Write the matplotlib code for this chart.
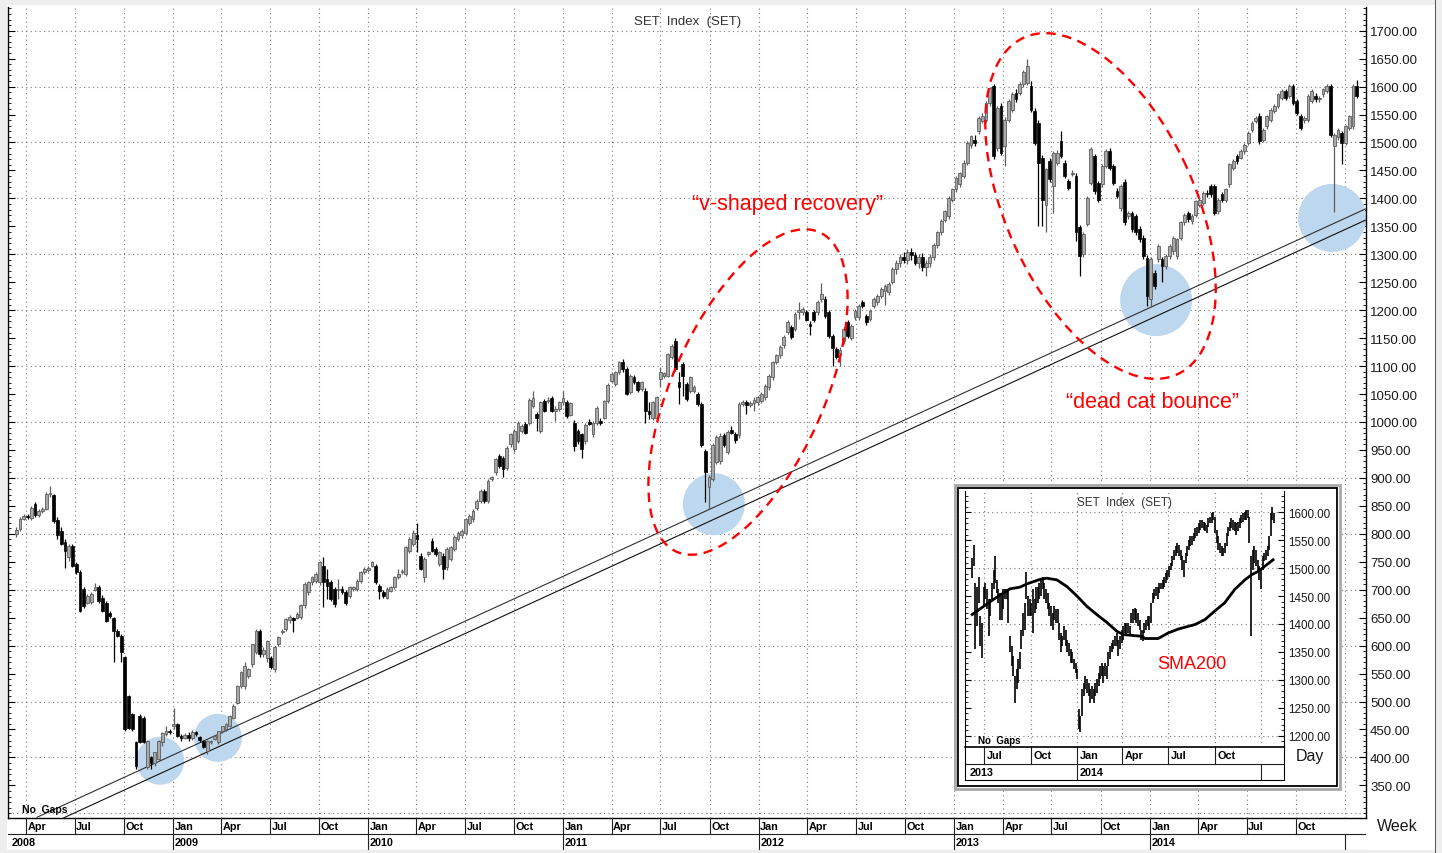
import numpy as np
import pandas as pd
import matplotlib
matplotlib.use("Agg")
import matplotlib.pyplot as plt
import matplotlib.dates as mdates
from matplotlib.patches import Ellipse, Rectangle
from matplotlib.transforms import IdentityTransform
from matplotlib.ticker import FormatStrFormatter, MultipleLocator, FixedLocator

plt.rcParams['font.family'] = ['Liberation Sans', 'DejaVu Sans']

# ------------------------------------------------------------------ data
# weekly SET index candles (open, high, low, close), one list per year
start_2008 = '2008-03-14'
open_2008 = [800, 808, 827, 831, 828, 853, 833, 840, 845, 871, 870, 825, 805, 785, 758, 779, 746, 731, 701, 677,
             678, 700, 704, 686, 677, 659, 650, 627, 618, 579, 510, 477, 427, 474, 471, 382, 400, 390, 397, 427,
             441, 447]
high_2008 = [812, 830, 835, 836, 850, 856, 845, 848, 874, 886, 872, 830, 812, 790, 782, 782, 750, 735, 705, 693,
             695, 712, 708, 690, 680, 662, 652, 630, 620, 582, 512, 480, 430, 478, 474, 432, 402, 410, 432, 446,
             456, 450]
low_2008 = [795, 805, 824, 826, 824, 830, 830, 838, 843, 866, 820, 791, 780, 738, 752, 740, 728, 660, 668, 674,
            675, 697, 676, 660, 642, 650, 570, 615, 570, 448, 450, 447, 380, 425, 425, 380, 380, 385, 395, 420,
            438, 442]
close_2008 = [806, 827, 831, 830, 847, 833, 840, 845, 871, 873, 823, 797, 782, 770, 779, 743, 731, 662, 671, 689,
              692, 705, 680, 662, 644, 653, 627, 618, 588, 450, 453, 450, 385, 427, 427, 430, 390, 409, 430, 444,
              447, 446]

start_2009 = '2009-01-02'
open_2009 = [456, 459, 439, 435, 440, 434, 446, 436, 430, 412, 427, 433, 427, 447, 450, 456, 471, 498, 528, 527,
             546, 567, 588, 627, 585, 578, 578, 558, 603, 624, 630, 645, 650, 650, 651, 672, 695, 713, 716, 713,
             743, 719, 713, 701, 699, 701, 695, 689, 701, 701, 716, 731]
high_2009 = [489, 462, 442, 444, 446, 449, 448, 438, 432, 431, 432, 440, 448, 457, 461, 476, 495, 530, 555, 570,
             560, 603, 630, 630, 598, 610, 582, 600, 617, 630, 650, 654, 652, 660, 675, 713, 716, 725, 731, 752,
             758, 737, 717, 705, 719, 706, 699, 707, 707, 719, 734, 740]
low_2009 = [450, 437, 430, 433, 430, 432, 438, 428, 416, 406, 424, 431, 424, 444, 448, 454, 468, 495, 525, 522,
            542, 562, 585, 580, 580, 570, 558, 552, 600, 620, 627, 640, 625, 648, 648, 668, 690, 709, 712, 709,
            669, 683, 680, 669, 683, 692, 672, 685, 697, 697, 712, 728]
close_2009 = [459, 439, 435, 440, 434, 446, 441, 431, 418, 430, 430, 438, 447, 456, 459, 474, 492, 528, 552, 564,
              558, 602, 627, 585, 592, 608, 562, 597, 615, 627, 648, 651, 645, 657, 672, 710, 713, 722, 728, 749,
              713, 707, 683, 675, 702, 696, 677, 704, 704, 716, 731, 737]

start_2010 = '2010-01-01'
open_2010 = [736, 743, 743, 707, 695, 686, 698, 704, 722, 731, 728, 770, 782, 797, 761, 722, 764, 788, 773, 746,
             761, 740, 755, 773, 791, 797, 802, 820, 826, 847, 859, 877, 859, 898, 910, 939, 936, 918, 960, 951,
             966, 984, 996, 999, 1029, 1014, 984, 1037, 1037, 1043, 1020, 1023, 1035]
high_2010 = [742, 752, 746, 711, 700, 704, 707, 725, 737, 737, 779, 794, 806, 820, 765, 758, 770, 792, 777, 770,
             765, 776, 779, 797, 805, 808, 829, 835, 844, 862, 880, 881, 898, 904, 936, 943, 940, 957, 981, 987,
             1002, 996, 1000, 1043, 1055, 1018, 1038, 1041, 1045, 1047, 1028, 1038, 1055]
low_2010 = [732, 740, 710, 683, 686, 683, 695, 701, 719, 728, 725, 766, 778, 767, 735, 713, 760, 767, 761, 742,
            719, 736, 751, 769, 787, 793, 798, 816, 822, 843, 855, 855, 855, 895, 906, 917, 901, 914, 956, 947,
            962, 980, 978, 995, 1025, 984, 980, 1017, 1034, 1017, 1002, 1019, 1030]
close_2010 = [738, 749, 713, 698, 689, 701, 704, 722, 728, 734, 776, 791, 802, 791, 737, 755, 767, 770, 764, 767,
              737, 773, 776, 794, 802, 805, 826, 832, 841, 859, 877, 859, 895, 901, 933, 921, 916, 954, 978, 984,
              999, 993, 981, 1040, 1043, 1008, 1035, 1020, 1040, 1020, 1023, 1035, 1043]

start_2011 = '2011-01-07'
open_2011 = [1035, 1012, 999, 984, 978, 966, 1000, 978, 999, 1002, 1008, 1038, 1074, 1068, 1089, 1107, 1095, 1053,
             1080, 1071, 1059, 1056, 1020, 1008, 1008, 1077, 1082, 1083, 1116, 1145, 1071, 1104, 1068, 1056, 1056,
             1050, 1032, 949, 883, 898, 928, 930, 976, 946, 985, 979, 976, 1032, 1035, 1030, 1034, 1035]
high_2011 = [1040, 1036, 1003, 988, 980, 998, 1005, 1001, 1028, 1008, 1040, 1070, 1090, 1092, 1110, 1113, 1098, 1086,
             1084, 1074, 1074, 1060, 1035, 1038, 1047, 1098, 1090, 1124, 1140, 1150, 1089, 1108, 1072, 1083, 1066,
             1054, 1035, 952, 905, 962, 976, 980, 980, 985, 992, 983, 1035, 1040, 1040, 1038, 1044, 1047]
low_2011 = [1008, 1010, 948, 960, 936, 960, 994, 974, 995, 994, 1005, 1034, 1070, 1065, 1086, 1089, 1048, 1050,
            1068, 1054, 1055, 999, 1006, 1004, 1004, 1062, 1078, 1080, 1112, 1092, 1032, 1047, 1038, 1052, 1052,
            1028, 955, 857, 845, 894, 924, 925, 955, 942, 978, 962, 972, 1028, 1014, 1026, 1020, 1030]
close_2011 = [1011, 1034, 957, 966, 951, 994, 997, 998, 1025, 998, 1038, 1066, 1086, 1089, 1107, 1095, 1050, 1083,
              1071, 1057, 1071, 1020, 1015, 1035, 1044, 1089, 1087, 1121, 1136, 1095, 1062, 1083, 1041, 1080, 1062,
              1032, 958, 910, 901, 958, 973, 975, 958, 982, 980, 967, 1032, 1035, 1030, 1034, 1040, 1044]

start_2012 = '2012-01-06'
open_2012 = [1038, 1044, 1062, 1080, 1107, 1119, 1137, 1161, 1170, 1167, 1196, 1196, 1196, 1175, 1196, 1196, 1220,
             1220, 1196, 1154, 1130, 1124, 1145, 1178, 1151, 1187, 1187, 1214, 1190, 1184, 1208, 1214, 1226, 1235,
             1232, 1250, 1274, 1285, 1295, 1290, 1305, 1298, 1285, 1295, 1278, 1285, 1296, 1316, 1339, 1362, 1368,
             1398]
high_2012 = [1053, 1068, 1086, 1110, 1122, 1137, 1155, 1182, 1174, 1197, 1214, 1206, 1200, 1180, 1200, 1218, 1249,
             1226, 1200, 1158, 1134, 1135, 1170, 1182, 1175, 1203, 1211, 1218, 1194, 1202, 1223, 1229, 1241, 1247,
             1250, 1277, 1290, 1300, 1305, 1310, 1312, 1305, 1300, 1302, 1290, 1300, 1320, 1342, 1363, 1380, 1404,
             1419]
low_2012 = [1034, 1040, 1058, 1076, 1103, 1115, 1133, 1157, 1148, 1163, 1184, 1192, 1180, 1155, 1178, 1192, 1215,
            1186, 1150, 1100, 1112, 1100, 1140, 1150, 1147, 1183, 1183, 1204, 1174, 1180, 1204, 1210, 1222, 1210,
            1228, 1246, 1265, 1278, 1285, 1282, 1290, 1280, 1275, 1270, 1262, 1278, 1290, 1312, 1335, 1358, 1364,
            1394]
close_2012 = [1050, 1065, 1083, 1107, 1119, 1134, 1152, 1179, 1152, 1194, 1200, 1203, 1182, 1172, 1182, 1214, 1229,
              1190, 1154, 1133, 1116, 1128, 1166, 1154, 1172, 1199, 1208, 1208, 1178, 1199, 1220, 1226, 1238, 1244,
              1247, 1274, 1285, 1295, 1290, 1305, 1298, 1285, 1295, 1278, 1285, 1296, 1316, 1339, 1360, 1377, 1401,
              1416]

start_2013 = '2013-01-04'
open_2013 = [1416, 1425, 1440, 1464, 1496, 1505, 1520, 1538, 1541, 1571, 1601, 1490, 1565, 1493, 1541, 1559, 1589,
             1589, 1604, 1607, 1601, 1556, 1535, 1473, 1389, 1467, 1422, 1464, 1502, 1464, 1431, 1443, 1440, 1348,
             1300, 1354, 1428, 1476, 1428, 1425, 1458, 1484, 1458, 1413, 1383, 1429, 1368, 1374, 1368, 1345, 1330,
             1294]
high_2013 = [1440, 1448, 1468, 1502, 1514, 1514, 1548, 1552, 1574, 1600, 1604, 1566, 1570, 1545, 1578, 1590, 1595,
             1608, 1630, 1649, 1610, 1562, 1540, 1478, 1455, 1472, 1485, 1486, 1520, 1468, 1435, 1450, 1445, 1352,
             1340, 1405, 1492, 1480, 1432, 1462, 1488, 1490, 1462, 1418, 1425, 1434, 1378, 1378, 1372, 1350, 1334,
             1298]
low_2013 = [1412, 1420, 1436, 1460, 1490, 1494, 1515, 1534, 1536, 1566, 1470, 1485, 1478, 1458, 1536, 1555, 1572,
            1585, 1600, 1602, 1555, 1495, 1351, 1351, 1339, 1430, 1374, 1460, 1472, 1436, 1415, 1440, 1324, 1261,
            1295, 1350, 1424, 1408, 1394, 1420, 1454, 1450, 1424, 1400, 1378, 1352, 1364, 1340, 1335, 1322, 1292,
            1208]
close_2013 = [1437, 1445, 1464, 1499, 1511, 1500, 1544, 1547, 1571, 1598, 1476, 1562, 1482, 1541, 1574, 1586, 1577,
              1604, 1627, 1636, 1559, 1499, 1464, 1398, 1452, 1434, 1482, 1482, 1476, 1440, 1419, 1446, 1339, 1297,
              1336, 1401, 1488, 1413, 1398, 1458, 1484, 1455, 1428, 1404, 1422, 1357, 1374, 1345, 1339, 1327, 1297,
              1226]

start_2014 = '2014-01-03'
open_2014 = [1220, 1267, 1291, 1291, 1279, 1297, 1306, 1297, 1330, 1357, 1374, 1360, 1371, 1389, 1392, 1410, 1422,
             1422, 1377, 1407, 1398, 1425, 1455, 1476, 1473, 1484, 1499, 1523, 1538, 1547, 1505, 1529, 1541, 1556,
             1565, 1580, 1592, 1583, 1601, 1574, 1547, 1541, 1541, 1574, 1583, 1577, 1586, 1592, 1601, 1493, 1509,
             1517]
high_2014 = [1295, 1272, 1318, 1296, 1300, 1318, 1333, 1330, 1360, 1374, 1378, 1372, 1398, 1401, 1413, 1415, 1426,
             1426, 1401, 1411, 1419, 1464, 1470, 1480, 1488, 1499, 1520, 1538, 1547, 1552, 1526, 1550, 1562, 1568,
             1589, 1595, 1596, 1604, 1605, 1578, 1551, 1548, 1586, 1595, 1588, 1584, 1598, 1604, 1605, 1517, 1526,
             1521]
low_2014 = [1205, 1238, 1286, 1251, 1274, 1292, 1300, 1292, 1325, 1352, 1358, 1355, 1366, 1385, 1388, 1403, 1403,
            1370, 1372, 1394, 1394, 1420, 1450, 1462, 1470, 1480, 1495, 1519, 1534, 1498, 1500, 1525, 1537, 1552,
            1561, 1576, 1576, 1579, 1567, 1549, 1522, 1535, 1536, 1570, 1573, 1572, 1582, 1588, 1510, 1376, 1505,
            1461]
close_2014 = [1291, 1243, 1315, 1279, 1297, 1315, 1330, 1327, 1357, 1371, 1363, 1368, 1395, 1398, 1410, 1407, 1407,
              1374, 1398, 1398, 1416, 1461, 1467, 1467, 1485, 1496, 1517, 1535, 1544, 1502, 1523, 1547, 1559, 1565,
              1586, 1592, 1580, 1601, 1571, 1553, 1526, 1544, 1583, 1592, 1577, 1580, 1595, 1601, 1514, 1514, 1523,
              1499]

start_2015 = '2015-01-02'
open_2015 = [1499, 1526, 1529, 1601]
high_2015 = [1532, 1550, 1604, 1612]
low_2015 = [1495, 1522, 1525, 1580]
close_2015 = [1529, 1547, 1601, 1583]

# highlighted touches of the trend line (date, index level)
touch_dates = ['2008-12-08', '2009-03-26', '2011-10-09', '2014-01-13', '2014-12-08']
touch_values = [394, 435, 853, 1218, 1365]

# two parallel trend lines (end points)
trend_upper_dates = ['2008-04-22', '2015-02-08']
trend_upper_values = [293, 1381]
trend_lower_dates = ['2008-06-11', '2015-02-08']
trend_lower_values = [292, 1361]

# inset: daily chart sampled about twice a week (high, low)
inset_start, inset_end = '2013-06-07', '2015-01-27'
inset_high = [1518, 1542, 1473, 1467, 1485, 1414, 1402, 1467, 1473, 1462,
              1444, 1444, 1473, 1497, 1521, 1479, 1462, 1456, 1450, 1462,
              1462, 1462, 1462, 1378, 1360, 1343, 1307, 1319, 1337, 1349,
              1390, 1420, 1438, 1494, 1450, 1444, 1438, 1462, 1444, 1467,
              1467, 1473, 1479, 1485, 1473, 1462, 1456, 1438, 1432, 1420,
              1432, 1426, 1426, 1402, 1384, 1378, 1396, 1390, 1372, 1366,
              1355, 1349, 1337, 1331, 1319, 1248, 1236, 1283, 1295, 1307,
              1301, 1295, 1283, 1289, 1283, 1295, 1301, 1313, 1325, 1331,
              1325, 1331, 1325, 1349, 1360, 1366, 1372, 1378, 1384, 1372,
              1378, 1390, 1396, 1402, 1402, 1402, 1396,
              1420, 1426, 1429, 1426, 1420, 1408, 1390, 1390, 1402, 1408,
              1414, 1414, 1438, 1456, 1462, 1467, 1467, 1473, 1473, 1479,
              1485, 1491, 1497, 1503, 1509, 1521, 1533, 1539, 1545, 1542,
              1533, 1521, 1515, 1527, 1539, 1551, 1557, 1557, 1563, 1571,
              1574, 1580, 1586, 1586, 1583, 1580, 1577, 1589, 1592, 1598,
              1601, 1592, 1568, 1557, 1545, 1539, 1536, 1545, 1563, 1574,
              1583, 1589, 1586, 1583, 1580, 1583, 1589, 1595, 1598, 1601,
              1604, 1604, 1592, 1521, 1533, 1539, 1533, 1515, 1503, 1497,
              1521, 1527, 1533, 1539, 1557, 1598, 1610, 1598]
inset_low = [1482, 1503, 1355, 1396, 1438, 1360, 1340, 1432, 1444, 1426,
             1378, 1414, 1444, 1462, 1473, 1456, 1438, 1408, 1408, 1426,
             1444, 1444, 1402, 1349, 1325, 1307, 1259, 1283, 1295, 1319,
             1355, 1378, 1390, 1444, 1414, 1414, 1414, 1384, 1420, 1426,
             1438, 1444, 1450, 1462, 1444, 1438, 1426, 1414, 1396, 1390,
             1408, 1402, 1402, 1372, 1349, 1360, 1372, 1360, 1349, 1343,
             1331, 1331, 1319, 1313, 1301, 1212, 1207, 1236, 1271, 1283,
             1277, 1271, 1259, 1265, 1259, 1271, 1277, 1289, 1301, 1307,
             1295, 1307, 1301, 1325, 1337, 1349, 1355, 1360, 1360, 1343,
             1355, 1366, 1372, 1384, 1378, 1384, 1378,
             1402, 1402, 1408, 1402, 1396, 1390, 1372, 1369, 1384, 1390,
             1396, 1390, 1402, 1438, 1444, 1450, 1444, 1456, 1462, 1462,
             1467, 1473, 1479, 1485, 1497, 1503, 1515, 1521, 1527, 1521,
             1515, 1497, 1485, 1509, 1521, 1533, 1539, 1542, 1548, 1554,
             1557, 1563, 1568, 1571, 1568, 1566, 1563, 1574, 1580, 1580,
             1586, 1563, 1545, 1533, 1527, 1521, 1521, 1527, 1539, 1557,
             1566, 1571, 1568, 1566, 1560, 1566, 1571, 1580, 1583, 1586,
             1586, 1589, 1545, 1378, 1497, 1509, 1503, 1491, 1479, 1462,
             1497, 1512, 1515, 1521, 1533, 1557, 1586, 1580]

sma_dates = ['2013-06-07', '2013-07-19', '2013-08-21', '2013-09-10', '2013-09-24', '2013-10-20',
             '2013-11-02', '2013-11-22', '2013-12-12', '2014-01-01', '2014-01-20', '2014-02-09',
             '2014-03-01', '2014-03-21', '2014-04-03', '2014-05-09', '2014-05-16', '2014-06-11',
             '2014-07-01', '2014-07-21', '2014-08-23', '2014-09-12', '2014-10-01', '2014-10-21',
             '2014-11-10', '2014-11-30', '2014-12-13', '2014-12-26', '2015-01-08', '2015-01-25']
sma_values = [1417, 1444, 1463, 1466, 1472, 1480, 1482, 1479, 1467, 1450, 1432, 1417, 1403, 1387, 1381,
              1378, 1374, 1374, 1384, 1391, 1399, 1408, 1423, 1438, 1462, 1479, 1488, 1494, 1503, 1515]

main_ticks = np.arange(350, 1701, 50)
inset_ticks = np.arange(1200, 1601, 50)
month_names = {1: 'Jan', 4: 'Apr', 7: 'Jul', 10: 'Oct'}

# ------------------------------------------------------------------ figure
W, H = 1442, 854
fig = plt.figure(figsize=(W / 100, H / 100), dpi=100)
fig.patch.set_facecolor('#eeeeee')


def px_axes(l, t, r, b, **kw):
    return fig.add_axes([l / W, 1 - b / H, (r - l) / W, (b - t) / H], **kw)


def px_rect(l, t, r, b, **kw):
    return Rectangle((l, H - b), r - l, b - t, transform=IdentityTransform(), **kw)


fig.add_artist(px_rect(7, 6, 1436, 851, facecolor='white', edgecolor='none', zorder=-5))
fig.add_artist(px_rect(1435, 0, 1436, 854, facecolor='#555555', edgecolor='none', zorder=-4))

# assemble weekly data
years = [(start_2008, open_2008, high_2008, low_2008, close_2008),
         (start_2009, open_2009, high_2009, low_2009, close_2009),
         (start_2010, open_2010, high_2010, low_2010, close_2010),
         (start_2011, open_2011, high_2011, low_2011, close_2011),
         (start_2012, open_2012, high_2012, low_2012, close_2012),
         (start_2013, open_2013, high_2013, low_2013, close_2013),
         (start_2014, open_2014, high_2014, low_2014, close_2014),
         (start_2015, open_2015, high_2015, low_2015, close_2015)]
xs, O, Hi, Lo, C = [], [], [], [], []
for s, o, h, l, c in years:
    xs.append(mdates.date2num(pd.date_range(s, periods=len(c), freq='7D').values))
    O += o; Hi += h; Lo += l; C += c
wx = np.concatenate(xs)
O, Hi, Lo, C = map(np.array, (O, Hi, Lo, C))

# main axes
ax = px_axes(8, 8, 1366, 819)
ax.set_facecolor('white')
anchor = mdates.date2num(np.datetime64('2009-01-01'))
ppd = 0.5349
ax.set_xlim(anchor - (173 - 8) / ppd, anchor + (1366 - 173) / ppd)
ppv = 0.559
ax.set_ylim(1700 - (819 - 31.7) / ppv, 1700 + (31.7 - 8) / ppv)

grid_kw = dict(color='#7a7a7a', lw=0.8, ls=(0, (1, 3)), zorder=1)
quarters = pd.date_range('2008-04-01', '2015-01-01', freq='QS')
for q in mdates.date2num(quarters.values):
    ax.axvline(q, **grid_kw)
for v in range(300, 1701, 100):
    ax.axhline(v, **grid_kw)

# highlight circles
radii = np.array([24, 24, 31, 36, 34])
ax.scatter(mdates.date2num(pd.to_datetime(touch_dates).values), touch_values,
           s=(2 * radii * 0.72) ** 2, color='#bdd7ee', edgecolors='none', zorder=2)

# trend lines
for d, v, col in [(trend_upper_dates, trend_upper_values, '#303030'),
                  (trend_lower_dates, trend_lower_values, '#101010')]:
    ax.plot(mdates.date2num(pd.to_datetime(d).values), v, color=col, lw=0.8, zorder=3)

# candles
up = C >= O
ax.vlines(wx[up], Lo[up], Hi[up], color='#5e5e5e', lw=0.9, zorder=4)
ax.vlines(wx[~up], Lo[~up], Hi[~up], color='black', lw=0.9, zorder=4)
bh = np.maximum(np.abs(C - O), 2.0)
bb = np.minimum(O, C)
ax.bar(wx[up], bh[up], bottom=bb[up], width=5.2, color='#a9a9a9', edgecolor='#5e5e5e', lw=0.6, zorder=5)
ax.bar(wx[~up], bh[~up], bottom=bb[~up], width=5.2, color='black', edgecolor='black', lw=0.5, zorder=5)

ax.spines['top'].set_visible(False)
for sp in ('left', 'right', 'bottom'):
    ax.spines[sp].set_color('black')
    ax.spines[sp].set_linewidth(1.0)
ax.yaxis.set_major_locator(FixedLocator(main_ticks))
ax.yaxis.set_minor_locator(MultipleLocator(10))
ax.yaxis.set_major_formatter(FormatStrFormatter('%.2f'))
ax.tick_params(axis='y', which='both', left=True, right=True, labelleft=False, labelright=True,
               direction='in')
ax.tick_params(axis='y', which='major', length=5, width=0.8, labelsize=9.5, pad=3, labelcolor='#1a1a1a')
ax.tick_params(axis='y', which='minor', length=2.5, width=0.6)
ax.tick_params(axis='x', which='both', bottom=False, top=False, labelbottom=False)

fig.text(688 / W, 1 - 22 / H, 'SET  Index  (SET)', ha='center', va='center', fontsize=9.5, color='#333333')
fig.text(22 / W, 1 - 810 / H, 'No  Gaps', ha='left', va='center', fontsize=7.5, fontweight='bold')
fig.text(1397 / W, 1 - 827 / H, 'Week', ha='center', va='center', fontsize=11.5, color='#1a1a1a')

# date strip under main chart
axs = px_axes(8, 819, 1366, 851)
axs.set_xlim(ax.get_xlim())
axs.set_ylim(0, 2)
axs.axis('off')
axs.axhline(1, color='#202020', lw=0.8)
axs.axhline(0.02, color='#909090', lw=0.8)
for q in quarters:
    qx = mdates.date2num(np.datetime64(q))
    if q.year < 2015:
        axs.plot([qx, qx], [1, 2], color='#202020', lw=0.8)
        axs.text(qx + 3, 1.5, month_names[q.month], ha='left', va='center', fontsize=7.8, fontweight='bold')
    if q.month == 1:
        axs.plot([qx, qx], [0, 1], color='#202020', lw=0.8)
        if q.year < 2015:
            axs.text(qx + 3, 0.5, str(q.year), ha='left', va='center', fontsize=7.8, fontweight='bold')
axs.text(mdates.date2num(np.datetime64('2008-03-05')), 0.5, '2008', ha='left', va='center',
         fontsize=7.8, fontweight='bold')

# annotations
fig.add_artist(Ellipse((748, H - 393), 350, 152, angle=65.9, transform=IdentityTransform(), fill=False,
                       edgecolor='#ff0000', lw=1.7, ls=(0, (4, 2.8)), zorder=8))
fig.add_artist(Ellipse((1100.5, H - 207), 370, 189, angle=114.5, transform=IdentityTransform(), fill=False,
                       edgecolor='#ff0000', lw=1.7, ls=(0, (4, 2.8)), zorder=8))
fig.text(788 / W, 1 - 205 / H, '\u201cv-shaped recovery\u201d', ha='center', va='center', fontsize=15.5,
         color='#ff0000', zorder=9)
fig.text(1152 / W, 1 - 402 / H, '\u201cdead cat bounce\u201d', ha='center', va='center', fontsize=15.5,
         color='#ff0000', zorder=9)

# ------------------------------------------------------------------ inset
fig.add_artist(px_rect(955, 486, 1340, 790, facecolor='white', edgecolor='#a8a8a8', lw=2.0, zorder=10))
fig.add_artist(px_rect(958, 489, 1337, 787, facecolor='white', edgecolor='black', lw=1.3, zorder=11))

axi = px_axes(965, 492, 1284, 748)
axi.set_zorder(12)
ianchor = mdates.date2num(np.datetime64('2013-07-01'))
ippd = 0.504
axi.set_xlim(ianchor - (984.3 - 965) / ippd, ianchor + (1284 - 984.3) / ippd)
ippv = 0.5585
axi.set_ylim(1200 - (748 - 736.7) / ippv, 1600 + (513.3 - 492) / ippv)
iquarters = pd.date_range('2013-07-01', '2015-01-01', freq='QS')
for q in mdates.date2num(iquarters.values):
    axi.axvline(q, **grid_kw)
for v in range(1200, 1601, 100):
    axi.axhline(v, **grid_kw)
ix = mdates.date2num(pd.date_range(inset_start, inset_end, periods=len(inset_high)).values)
axi.vlines(ix, inset_low, inset_high, color='black', lw=1.2, zorder=4)
axi.plot(mdates.date2num(pd.to_datetime(sma_dates).values), sma_values, color='black', lw=2.0, zorder=5)
axi.spines['top'].set_visible(False)
axi.yaxis.set_major_locator(FixedLocator(inset_ticks))
axi.yaxis.set_minor_locator(MultipleLocator(10))
axi.yaxis.set_major_formatter(FormatStrFormatter('%.2f'))
axi.tick_params(axis='y', which='both', left=True, right=True, labelleft=False, labelright=True, direction='in')
axi.tick_params(axis='y', which='major', length=4, width=0.8, labelsize=8.4, pad=3, labelcolor='#1a1a1a')
axi.tick_params(axis='y', which='minor', length=2, width=0.6)
axi.tick_params(axis='x', which='both', bottom=False, labelbottom=False)
axi.text(0.5, 1 - 11 / 256, 'SET  Index  (SET)', transform=axi.transAxes, ha='center', va='center',
         fontsize=8.5, color='#333333')
axi.text(13 / 319, 7 / 256, 'No  Gaps', transform=axi.transAxes, ha='left', va='center', fontsize=7,
         fontweight='bold')
axi.text(mdates.date2num(np.datetime64('2014-08-17')), 1330, 'SMA200', ha='center', va='center',
         fontsize=13, color='#ff0000')

axis_ = px_axes(965, 748, 1284, 781)
axis_.set_zorder(12)
axis_.set_xlim(axi.get_xlim())
axis_.set_ylim(0, 2)
axis_.set_xticks([]); axis_.set_yticks([])
axis_.spines['top'].set_linewidth(1.2)
axis_.axhline(1, color='#202020', lw=0.8)
for q in iquarters:
    qx = mdates.date2num(np.datetime64(q))
    if q.year < 2015:
        axis_.plot([qx, qx], [1, 2], color='#202020', lw=0.8)
        axis_.text(qx + 5, 1.5, month_names[q.month], ha='left', va='center', fontsize=7.8, fontweight='bold')
    if q.month == 1:
        axis_.plot([qx, qx], [0, 1], color='#202020', lw=0.8)
        if q.year < 2015:
            axis_.text(qx + 5, 0.5, str(q.year), ha='left', va='center', fontsize=7.8, fontweight='bold')
axis_.text(mdates.date2num(np.datetime64('2013-06-01')), 0.5, '2013', ha='left', va='center',
           fontsize=7.8, fontweight='bold')
fig.text(1310 / W, 1 - 757 / H, 'Day', ha='center', va='center', fontsize=11.5, color='#1a1a1a', zorder=13)

fig.savefig('out.png', dpi=100)
